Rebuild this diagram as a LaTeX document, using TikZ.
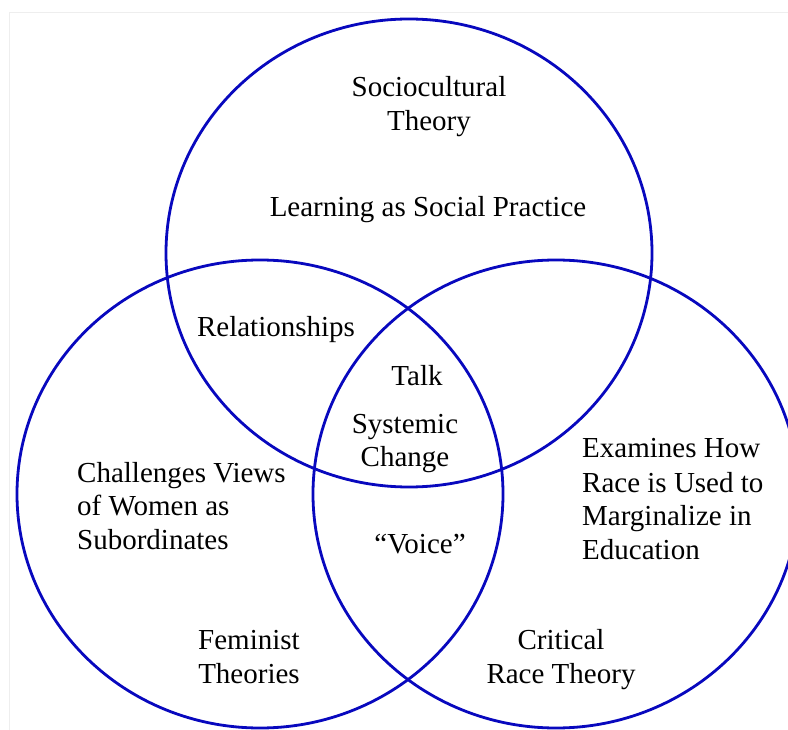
\documentclass[tikz,border=0pt]{standalone}
\usepackage{fontspec}
\setmainfont{Liberation Serif}
\definecolor{ring}{RGB}{8,8,190}
\definecolor{frameg}{RGB}{238,238,238}
\begin{document}
\begin{tikzpicture}[x=1pt,y=-1pt,
  ringline/.style={draw=ring,line width=2.8pt},
  lbl/.style={inner sep=0pt,anchor=base,font=\fontsize{29}{34}\selectfont},
  lbll/.style={lbl,anchor=base west}]
\useasboundingbox (0,0) rectangle (788,730);
\fill[white] (0,0) rectangle (788,730);
\draw[frameg,line width=1pt] (9,730) -- (9,13) -- (788,13);
\begin{scope}
\clip (0,0) rectangle (788,730);
\draw[ringline] (409,253) ellipse [x radius=243pt,y radius=234pt];
\draw[ringline] (260,494) ellipse [x radius=243pt,y radius=234pt];
\draw[ringline] (556,494) ellipse [x radius=243pt,y radius=234pt];
\end{scope}
% Sociocultural
\node[lbl] (soc1) at (429,97) {Sociocultural};
\node[lbl] (soc2) at (429,131) {Theory};
\node[lbl] (lasp) at (428,217) {Learning as Social Practice};
% intersections
\node[lbl] (rel) at (276,337) {Relationships};
\node[lbl] (talk) at (417,385) {Talk};
\node[lbl] (sys1) at (405,433) {Systemic};
\node[lbl] (sys2) at (405,466) {Change};
\node[lbl] (voice) at (420,553) {“Voice”};
% Feminist
\node[lbll] (ch1) at (77,482) {Challenges Views};
\node[lbll] (ch2) at (77,515) {of Women as};
\node[lbll] (ch3) at (77,549) {Subordinates};
\node[lbl] (fem1) at (249,649) {Feminist};
\node[lbl] (fem2) at (249,683) {Theories};
% Critical race
\node[lbll] (ex1) at (582,457) {Examines How};
\node[lbll] (ex2) at (582,492) {Race is Used to};
\node[lbll] (ex3) at (582,525) {Marginalize in};
\node[lbll] (ex4) at (582,559) {Education};
\node[lbl] (crt1) at (561,649) {Critical};
\node[lbl] (crt2) at (561,683) {Race Theory};
\end{tikzpicture}
\end{document}
